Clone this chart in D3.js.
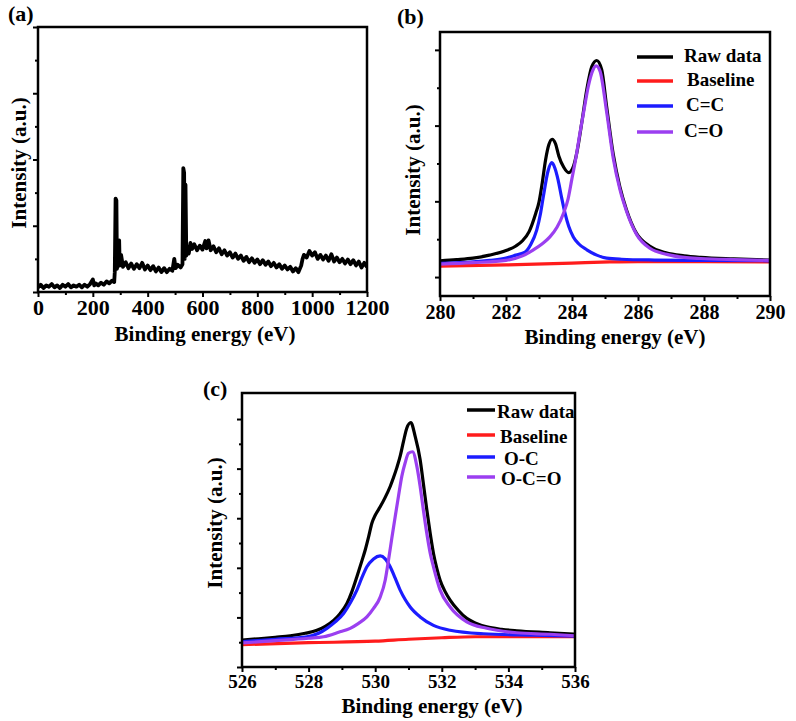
<!DOCTYPE html>
<html><head><meta charset="utf-8">
<script src="https://cdn.jsdelivr.net/npm/d3@7"></script>
<style>body{margin:0;background:#fff}</style>
</head><body>
<svg id="chart" width="796" height="721"></svg>
<script>
// ---------------- DATA ----------------
// (a) XPS survey: [binding energy eV, intensity a.u.]
const surveyData = [
[0,0.07],[10,0.11],[20,0.06],[30,0.10],[40,0.08],[50,0.12],[60,0.07],[70,0.10],[80,0.06],[90,0.11],
[100,0.08],[110,0.12],[120,0.07],[130,0.10],[140,0.08],[150,0.11],[160,0.07],[170,0.11],[180,0.08],[190,0.12],
[200,0.19],[205,0.10],[210,0.13],[220,0.10],[230,0.14],[240,0.11],[250,0.16],[260,0.13],[270,0.17],[278,0.15],
[280,0.30],[283,1.41],[286,1.38],[288,0.35],[292,0.45],[296,0.78],[298,0.40],[303,0.56],[310,0.38],[320,0.45],
[330,0.36],[340,0.43],[350,0.35],[360,0.42],[370,0.36],[380,0.44],[390,0.34],[400,0.40],[410,0.33],[420,0.39],
[430,0.31],[440,0.37],[450,0.30],[460,0.36],[470,0.30],[480,0.35],[490,0.32],[497,0.50],[502,0.36],[510,0.41],
[520,0.37],[527,0.42],[530,1.87],[533,1.80],[535,0.50],[538,1.62],[541,0.55],[546,0.68],[550,0.58],[556,0.74],
[562,0.65],[570,0.72],[580,0.63],[590,0.70],[600,0.64],[610,0.77],[615,0.66],[622,0.78],[630,0.63],[640,0.69],
[650,0.60],[660,0.66],[670,0.57],[680,0.63],[690,0.55],[700,0.60],[710,0.52],[720,0.58],[730,0.50],[740,0.55],
[750,0.47],[760,0.53],[770,0.45],[780,0.51],[790,0.44],[800,0.49],[810,0.42],[820,0.48],[830,0.41],[840,0.46],
[850,0.39],[860,0.44],[870,0.37],[880,0.42],[890,0.35],[900,0.40],[910,0.34],[920,0.38],[930,0.31],[940,0.36],
[950,0.30],[960,0.40],[965,0.50],[970,0.56],[980,0.52],[990,0.62],[1000,0.55],[1010,0.60],[1020,0.50],[1030,0.56],
[1040,0.49],[1050,0.55],[1060,0.47],[1070,0.57],[1080,0.46],[1090,0.52],[1100,0.45],[1110,0.50],[1120,0.43],[1130,0.49],
[1140,0.42],[1150,0.48],[1160,0.40],[1170,0.46],[1180,0.37],[1190,0.44],[1198,0.39]
];

// (b) C 1s
const c1sRaw = [
[280.0,0.215],[280.5,0.23],[281.0,0.25],[281.5,0.29],[282.0,0.35],[282.3,0.41],[282.5,0.48],[282.7,0.60],
[282.9,0.84],[283.0,0.99],[283.1,1.25],[283.2,1.55],[283.3,1.75],[283.4,1.82],[283.5,1.76],[283.6,1.60],
[283.75,1.45],[283.9,1.38],[284.05,1.47],[284.15,1.65],[284.3,2.05],[284.45,2.48],[284.6,2.78],[284.75,2.86],
[284.9,2.74],[285.05,2.25],[285.25,1.62],[285.45,1.19],[285.65,0.89],[285.95,0.58],[286.35,0.41],[286.85,0.32],
[287.4,0.28],[287.9,0.26],[288.9,0.24],[290.0,0.225]
];
const c1sBaseline = [[280,0.145],[282,0.16],[284,0.185],[285.15,0.20],[286,0.205],[288,0.205],[290,0.20]];
const c1sCC = [
[280.0,0.18],[281.0,0.20],[281.5,0.22],[282.0,0.25],[282.3,0.29],[282.58,0.33],[282.75,0.43],[282.93,0.62],
[283.05,0.85],[283.13,1.06],[283.28,1.41],[283.39,1.51],[283.48,1.44],[283.58,1.28],[283.68,1.06],[283.79,0.84],
[283.9,0.67],[284.04,0.53],[284.2,0.44],[284.45,0.36],[284.75,0.29],[285.05,0.25],[285.5,0.235],[286.5,0.225],
[288,0.22],[290,0.215]
];
const c1sCO = [
[280.0,0.17],[281.0,0.19],[282.0,0.22],[282.5,0.28],[282.83,0.36],[283.1,0.44],[283.33,0.53],[283.55,0.66],
[283.74,0.84],[283.88,1.03],[283.99,1.28],[284.12,1.58],[284.24,1.90],[284.37,2.22],[284.49,2.51],[284.62,2.72],
[284.73,2.79],[284.85,2.72],[285.05,2.18],[285.25,1.57],[285.45,1.16],[285.66,0.86],[285.96,0.56],[286.36,0.38],
[286.87,0.30],[287.4,0.26],[287.9,0.245],[288.9,0.23],[290.0,0.22]
];

// (c) O 1s
const o1sRaw = [
[526.0,0.54],[526.5,0.57],[527.0,0.60],[527.45,0.63],[527.9,0.68],[528.25,0.74],[528.5,0.82],[528.75,0.94],
[528.95,1.08],[529.15,1.28],[529.3,1.52],[529.45,1.82],[529.6,2.14],[529.7,2.36],[529.8,2.62],[529.9,2.90],
[530.0,3.06],[530.15,3.23],[530.3,3.42],[530.45,3.64],[530.55,3.82],[530.65,4.02],[530.75,4.25],[530.85,4.55],
[530.95,4.82],[531.07,4.93],[531.2,4.65],[531.35,4.18],[531.45,3.68],[531.55,3.17],[531.65,2.70],[531.75,2.29],
[531.85,1.99],[531.95,1.75],[532.1,1.52],[532.25,1.35],[532.5,1.14],[532.75,0.98],[533.0,0.89],[533.35,0.81],
[533.8,0.76],[534.25,0.73],[535.25,0.69],[536.0,0.66]
];
const o1sBaseline = [[526,0.45],[528,0.49],[530,0.52],[531,0.56],[532,0.59],[533,0.61],[536,0.61]];
const o1sOC = [
[526.0,0.51],[527.0,0.56],[527.95,0.61],[528.3,0.68],[528.55,0.78],[528.8,0.91],[529.05,1.08],[529.25,1.29],
[529.45,1.55],[529.6,1.80],[529.75,2.02],[529.95,2.18],[530.15,2.24],[530.3,2.18],[530.45,2.02],[530.6,1.79],
[530.75,1.55],[530.9,1.36],[531.05,1.21],[531.35,1.01],[531.75,0.84],[532.25,0.74],[533.25,0.67],[534.75,0.64],
[536.0,0.62]
];
const o1sOCO = [
[526.0,0.485],[527.0,0.53],[528.0,0.58],[528.45,0.61],[528.9,0.70],[529.25,0.78],[529.5,0.88],[529.75,1.01],
[529.95,1.18],[530.15,1.41],[530.3,1.75],[530.4,2.16],[530.5,2.60],[530.6,3.03],[530.7,3.45],[530.8,3.85],
[530.9,4.12],[531.0,4.31],[531.12,4.34],[531.25,4.05],[531.35,3.64],[531.45,3.15],[531.55,2.69],[531.65,2.30],
[531.75,2.02],[531.95,1.55],[532.25,1.21],[532.75,0.91],[533.35,0.78],[534.25,0.69],[535.25,0.66],[536.0,0.63]
];

// tick values
const surveyXTicks = [0,200,400,600,800,1000,1200];
const surveyXMinor = [100,300,500,700,900,1100];
const surveyYTicks = [0,1,2,3,4];
const surveyYMinor = [0.5,1.5,2.5,3.5];
const c1sXTicks = [280,282,284,286,288,290];
const c1sXMinor = [281,283,285,287,289];
const c1sYTicks = [0,1,2,3];
const c1sYMinor = [0.5,1.5,2.5];
const o1sXTicks = [526,528,530,532,534,536];
const o1sXMinor = [527,529,531,533,535];
const o1sYTicks = [0,1,2,3,4,5];
const o1sYMinor = [0.5,1.5,2.5,3.5,4.5];

const c1sLegend = ["Raw data","Baseline","C=C","C=O"];
const o1sLegend = ["Raw data","Baseline","O-C","O-C=O"];
const seriesColors = ["#000000","#ff1c1c","#1c1cff","#9b3ff0"];

// ---------------- DRAW ----------------
const FONT = "Liberation Serif";
const svg = d3.select("#chart");

function txt(sel){ return sel.attr("font-family", FONT).attr("font-weight", "bold").attr("fill", "#000"); }

function panel(cfg){
  const g = svg.append("g");
  const x = d3.scaleLinear().domain(cfg.xDomain).range([cfg.box.x0, cfg.box.x1]);
  const y = d3.scaleLinear().domain(cfg.yDomain).range([cfg.box.y1, cfg.box.y0]);
  const id = "clip" + cfg.name;
  svg.append("clipPath").attr("id", id).append("rect")
    .attr("x", cfg.box.x0).attr("y", cfg.box.y0)
    .attr("width", cfg.box.x1 - cfg.box.x0).attr("height", cfg.box.y1 - cfg.box.y0);

  // minor ticks
  g.append("g").attr("transform", `translate(0,${cfg.box.y1})`)
    .call(d3.axisBottom(x).tickValues(cfg.xMinor).tickSize(3).tickFormat(""))
    .call(s => s.select(".domain").remove());
  g.append("g").attr("transform", `translate(${cfg.box.x0},0)`)
    .call(d3.axisLeft(y).tickValues(cfg.yMinor).tickSize(3).tickFormat(""))
    .call(s => s.select(".domain").remove());
  // major ticks
  const xa = g.append("g").attr("transform", `translate(0,${cfg.box.y1})`)
    .call(d3.axisBottom(x).tickValues(cfg.xTicks).tickSize(5).tickPadding(cfg.tickPad).tickFormat(d3.format("d")))
    .call(s => s.select(".domain").remove());
  xa.attr("font-family", FONT).attr("font-size", cfg.tickFont);
  txt(xa.selectAll("text")).attr("font-size", cfg.tickFont + "px");
  g.append("g").attr("transform", `translate(${cfg.box.x0},0)`)
    .call(d3.axisLeft(y).tickValues(cfg.yTicks).tickSize(5).tickFormat(""))
    .call(s => s.select(".domain").remove());
  g.selectAll(".tick line").attr("stroke", "#000").attr("stroke-width", 2);

  // series
  const line = d3.line().x(d => x(d[0])).y(d => y(d[1])).curve(cfg.curve);
  const cg = g.append("g").attr("clip-path", `url(#${id})`);
  cfg.series.forEach(s => {
    cg.append("path").datum(s.data)
      .attr("fill", "none").attr("stroke", s.color).attr("stroke-width", s.width || 3)
      .attr("stroke-linejoin", "round").attr("stroke-linecap", "round")
      .attr("d", line);
  });

  // frame
  g.append("rect").attr("x", cfg.box.x0).attr("y", cfg.box.y0)
    .attr("width", cfg.box.x1 - cfg.box.x0).attr("height", cfg.box.y1 - cfg.box.y0)
    .attr("fill", "none").attr("stroke", "#000").attr("stroke-width", 2.5);

  // titles
  txt(g.append("text")).attr("x", cfg.xTitle[0]).attr("y", cfg.xTitle[1])
    .attr("text-anchor", "middle").attr("font-size", cfg.titleFont + "px").text("Binding energy (eV)");
  txt(g.append("text")).attr("transform", `translate(${cfg.yTitle[0]},${cfg.yTitle[1]}) rotate(-90)`)
    .attr("text-anchor", "middle").attr("font-size", cfg.titleFont + "px").text("Intensity (a.u.)");
  txt(g.append("text")).attr("x", cfg.label[0]).attr("y", cfg.label[1])
    .attr("font-size", "22px").text(cfg.labelText);

  // legend
  if (cfg.legend) {
    const L = cfg.legend;
    L.labels.forEach((t, i) => {
      const ly = L.ys[i];
      g.append("line").attr("x1", L.lx0).attr("x2", L.lx1).attr("y1", ly).attr("y2", ly)
        .attr("stroke", seriesColors[i]).attr("stroke-width", 3.5);
      txt(g.append("text")).attr("x", L.tx[i]).attr("y", ly + L.dy)
        .attr("font-size", L.font + "px").text(t);
    });
  }
}

panel({
  name: "a", box: {x0: 38, x1: 367, y0: 27, y1: 292},
  xDomain: [0, 1200], yDomain: [0, 4],
  xTicks: surveyXTicks, xMinor: surveyXMinor, yTicks: surveyYTicks, yMinor: surveyYMinor,
  tickFont: 22, tickPad: 2, titleFont: 21,
  xTitle: [205, 341], yTitle: [26, 163], label: [8, 21], labelText: "(a)",
  curve: d3.curveLinear,
  series: [{data: surveyData, color: "#000", width: 3.8}]
});

panel({
  name: "b", box: {x0: 440, x1: 770, y0: 32, y1: 296},
  xDomain: [280, 290], yDomain: [-0.25, 3.236],
  xTicks: c1sXTicks, xMinor: c1sXMinor, yTicks: c1sYTicks, yMinor: c1sYMinor,
  tickFont: 20, tickPad: 4, titleFont: 21,
  xTitle: [615, 344], yTitle: [420, 170], label: [397, 24], labelText: "(b)",
  curve: d3.curveMonotoneX,
  series: [
    {data: c1sRaw, color: seriesColors[0], width: 3.2},
    {data: c1sBaseline, color: seriesColors[1], width: 3.2},
    {data: c1sCC, color: seriesColors[2], width: 3.2},
    {data: c1sCO, color: seriesColors[3], width: 3.2}
  ],
  legend: {labels: c1sLegend, ys: [57, 81, 106, 132], lx0: 637, lx1: 673, tx: [684, 687, 686, 684], dy: 5, font: 19}
});

panel({
  name: "c", box: {x0: 242, x1: 575, y0: 393, y1: 667},
  xDomain: [526, 536], yDomain: [0, 5.525],
  xTicks: o1sXTicks, xMinor: o1sXMinor, yTicks: o1sYTicks, yMinor: o1sYMinor,
  tickFont: 19, tickPad: 3, titleFont: 21,
  xTitle: [432, 713], yTitle: [222, 523], label: [203, 396], labelText: "(c)",
  curve: d3.curveMonotoneX,
  series: [
    {data: o1sRaw, color: seriesColors[0], width: 3.2},
    {data: o1sBaseline, color: seriesColors[1], width: 3.2},
    {data: o1sOC, color: seriesColors[2], width: 3.2},
    {data: o1sOCO, color: seriesColors[3], width: 3.2}
  ],
  legend: {labels: o1sLegend, ys: [410, 435, 457, 477], lx0: 467, lx1: 495, tx: [497, 500, 504, 501], dy: 7.5, font: 19}
});
</script>
</body></html>
